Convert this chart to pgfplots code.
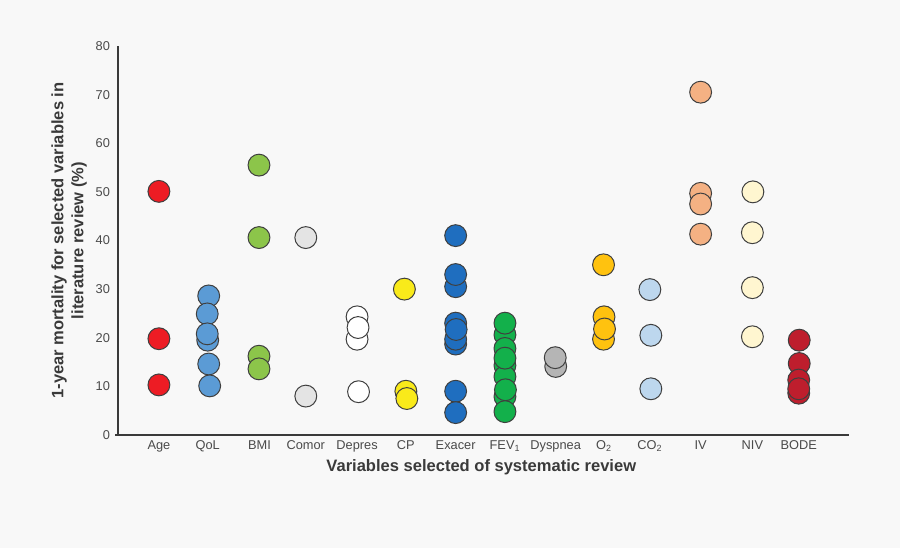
\documentclass[border=0pt]{standalone}
\usepackage{fontspec}
\setmainfont{Liberation Sans}
\usepackage{pgfplots}
\pgfplotsset{compat=1.18}

\definecolor{bg}{HTML}{F8F8F8}
\definecolor{edgecol}{HTML}{3F3F3F}
\definecolor{axiscol}{HTML}{3A3A3A}
\definecolor{tickcol}{HTML}{4A4A4A}
\definecolor{agecol}{HTML}{ED1C24}
\definecolor{qolcol}{HTML}{5B9BD5}
\definecolor{bmicol}{HTML}{8CC54A}
\definecolor{comorcol}{HTML}{E4E4E4}
\definecolor{deprescol}{HTML}{FFFFFF}
\definecolor{cpcol}{HTML}{F9EA1A}
\definecolor{exacercol}{HTML}{1F6EBF}
\definecolor{fevcol}{HTML}{13B04B}
\definecolor{dyspcol}{HTML}{B5B5B5}
\definecolor{otwocol}{HTML}{FFC20F}
\definecolor{cotwocol}{HTML}{BDD7EE}
\definecolor{ivcol}{HTML}{F4B183}
\definecolor{nivcol}{HTML}{FFF6D0}
\definecolor{bodecol}{HTML}{BE1E2D}

\pgfplotsset{
  dot/.style={only marks, mark=*, mark size=8.2pt,
    mark options={draw=edgecol, line width=0.75pt, fill=#1}},
}

\begin{document}
\begin{tikzpicture}
\fill[bg] (0,0) rectangle (675pt,411pt);
\begin{axis}[
    at={(88.5pt,84.75pt)}, anchor=south west,
    scale only axis, width=548.25pt, height=291.75pt,
    xmin=0.17, xmax=15, ymin=0, ymax=80,
    axis x line=bottom, axis y line=left,
    axis line style={-, draw=axiscol, line width=1.1pt},
    clip=false,
    ytick={0,10,...,80},
    xtick={1.00,1.99,3.04,3.98,5.02,6.01,7.02,8.02,9.05,10.03,10.96,11.99,13.04,13.98},
    xticklabels={Age,QoL,BMI,Comor,Depres,CP,Exacer,FEV\textsubscript{1},Dyspnea,O\textsubscript{2},CO\textsubscript{2},IV,NIV,BODE},
    major tick length=0pt,
    extra y ticks={0}, extra y tick labels={},
    extra tick style={major tick length=4pt, tick align=center, tick style={draw=axiscol, line width=0.9pt}},
    /pgf/number format/assume math mode=true,
    ticklabel style={font=\fontsize{9.6}{11}\selectfont, text=tickcol},
    yticklabel style={xshift=-2.5pt},
    xticklabel style={yshift=-0.5pt},
    xlabel={Variables selected of systematic review},
    ylabel={1-year mortality for selected variables in\\literature review (\%)},
    label style={font=\bfseries\fontsize{12.4}{15}\selectfont, text=axiscol},
    xlabel style={at={(axis description cs:0.497,-0.082)}, anchor=center},
    ylabel style={at={(axis description cs:-0.067,0.5)}, anchor=center, align=center},
  ]
  % Age
  \addplot[dot=agecol] coordinates {(1.00,50.1) (1.00,19.8) (1.00,10.3)};
  % QoL
  \addplot[dot=qolcol] coordinates {(1.99,19.5) (2.01,28.6) (1.98,24.9) (2.01,14.6) (2.03,10.1) (1.98,20.8)};
  % BMI
  \addplot[dot=bmicol] coordinates {(3.03,55.5) (3.03,40.6) (3.03,16.2) (3.03,13.6)};
  % Comor
  \addplot[dot=comorcol] coordinates {(3.98,40.6) (3.98,8.0)};
  % Depres
  \addplot[dot=deprescol] coordinates {(5.02,24.3) (5.02,19.7) (5.04,22.1) (5.05,8.9)};
  % CP
  \addplot[dot=cpcol] coordinates {(5.98,30.0) (6.01,9.0) (6.03,7.5)};
  % Exacer
  \addplot[dot=exacercol] coordinates {(7.02,41.0) (7.02,30.5) (7.02,33.0) (7.02,18.7) (7.02,19.7) (7.02,23.0) (7.03,21.7) (7.02,9.0) (7.02,4.6)};
  % FEV1
  \addplot[dot=fevcol] coordinates {(8.02,20.6) (8.02,17.8) (8.02,14.3) (8.02,12.0) (8.02,7.9) (8.02,23.0) (8.02,15.8) (8.03,9.3) (8.02,4.8)};
  % Dyspnea
  \addplot[dot=dyspcol] coordinates {(9.05,14.1) (9.04,15.9)};
  % O2
  \addplot[dot=otwocol] coordinates {(10.02,35.0) (10.02,19.7) (10.03,24.3) (10.04,21.8)};
  % CO2
  \addplot[dot=cotwocol] coordinates {(10.96,29.9) (10.98,20.5) (10.98,9.5)};
  % IV
  \addplot[dot=ivcol] coordinates {(11.99,70.5) (11.99,41.3) (11.99,49.7) (11.99,47.5)};
  % NIV
  \addplot[dot=nivcol] coordinates {(13.05,50.0) (13.04,41.6) (13.04,30.3) (13.04,20.2)};
  % BODE
  \addplot[dot=bodecol] coordinates {(13.99,19.5) (13.99,14.7) (13.98,11.3) (13.98,8.6) (13.98,9.5)};
\end{axis}
\end{tikzpicture}
\end{document}
